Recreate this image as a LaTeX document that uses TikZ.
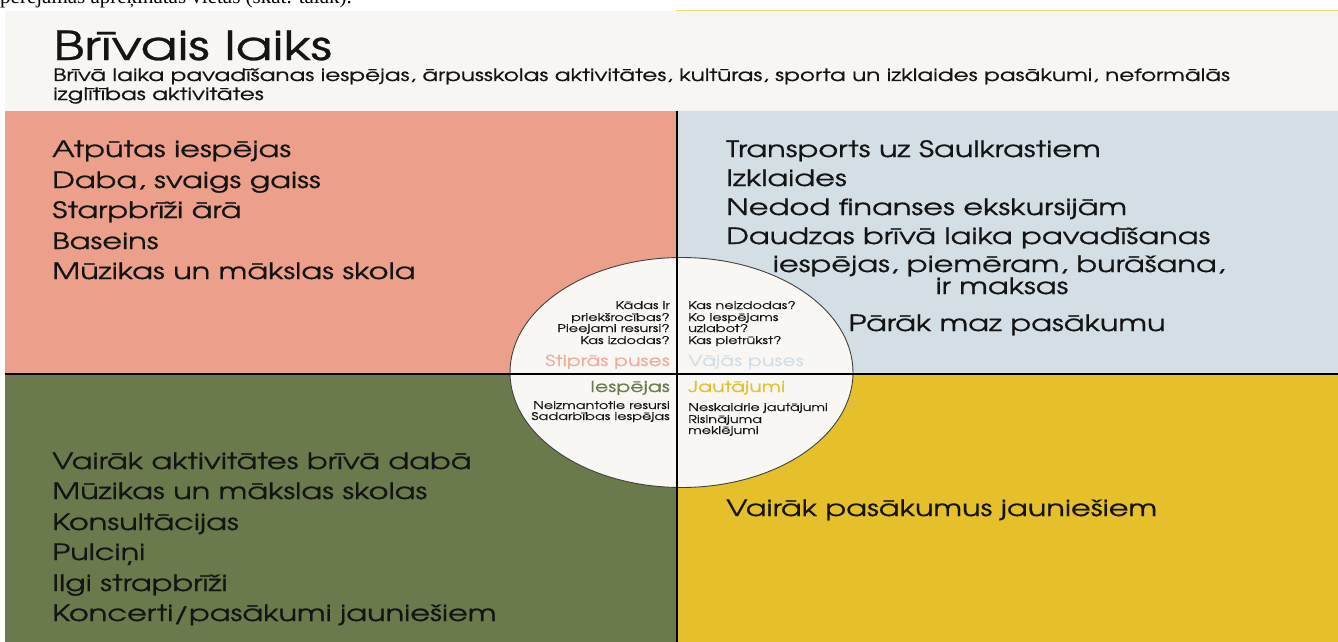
\documentclass[tikz,border=0pt]{standalone}
\usepackage{fontspec}
\IfFontExistsTF{texgyreadventor-regular.otf}
  {\setmainfont{texgyreadventor-regular.otf}[FakeBold=0.7,FakeStretch=1.36]}
  {\setmainfont{Poppins}[FakeStretch=1.27]}
\newfontfamily\serifcut{Liberation Serif}
\definecolor{salmon}{HTML}{ECA08C}
\definecolor{lblue}{HTML}{D3DFE5}
\definecolor{olive}{HTML}{6B7A4D}
\definecolor{gold}{HTML}{E5C02A}
\definecolor{beige}{HTML}{F7F6F2}
\definecolor{circfill}{HTML}{F8F7F4}
\definecolor{txt}{HTML}{141414}
\begin{document}
\begin{tikzpicture}[x=1pt,y=-1pt,
  item/.style={inner sep=0pt,anchor=base west,text=txt,font=\fontsize{22.4}{26}\selectfont},
  itemc/.style={inner sep=0pt,anchor=base,text=txt,font=\fontsize{22.4}{26}\selectfont},
  qL/.style={inner sep=0pt,anchor=base east,text=txt,font=\fontsize{10.6}{13}\selectfont},
  qR/.style={inner sep=0pt,anchor=base west,text=txt,font=\fontsize{10.6}{13}\selectfont},
  headL/.style={inner sep=0pt,anchor=base east,font=\fontsize{15.1}{18}\selectfont},
  headR/.style={inner sep=0pt,anchor=base west,font=\fontsize{15.1}{18}\selectfont},
  divider/.style={line width=2pt,draw=black}]
\useasboundingbox (0,0) rectangle (1338,642);
\fill[white] (0,0) rectangle (1338,642);
% cut-off line of text at the top
\begin{scope}
\clip (0,0) rectangle (1338,10);
\node[inner sep=0pt,anchor=base west,font=\serifcut\fontsize{21}{24}\selectfont] (cut) at (0,4) {perējamas aprēķinātas vietas (skat. tālāk).};
\end{scope}
\draw[draw=gold!60,line width=1pt] (676,10.5) -- (1338,10.5);
% header
\fill[beige] (5,11) rectangle (1338,111);
\node[inner sep=0pt,anchor=base west,text=txt,font=\fontsize{40}{42}\selectfont] (title) at (53,60) {Brīvais laiks};
\node[inner sep=0pt,anchor=base west,text=txt,font=\fontsize{17}{19}\selectfont] (sub1) at (53,81) {Brīvā laika pavadīšanas iespējas, ārpusskolas aktivitātes, kultūras, sporta un izklaides pasākumi, neformālās};
\node[inner sep=0pt,anchor=base west,text=txt,font=\fontsize{17}{19}\selectfont] (sub2) at (53,100) {izglītības aktivitātes};
% quadrants
\fill[salmon] (5,111) rectangle (677,373);
\fill[lblue] (677,111) rectangle (1338,373);
\fill[olive] (5,373) rectangle (677,642);
\fill[gold] (677,373) rectangle (1338,642);
% quadrant texts
\node[item] (s1) at (52,157) {Atpūtas iespējas};
\node[item] (s2) at (52,188) {Daba, svaigs gaiss};
\node[item] (s3) at (52,218) {Starpbrīži ārā};
\node[item] (s4) at (52,249) {Baseins};
\node[item] (s5) at (52,279) {Mūzikas un mākslas skola};
\node[item] (w1) at (726,157) {Transports uz Saulkrastiem};
\node[item] (w2) at (726,186) {Izklaides};
\node[item] (w3) at (726,215) {Nedod finanses ekskursijām};
\node[item] (w4) at (726,244) {Daudzas brīvā laika pavadīšanas};
\node[itemc] (w5) at (999,272) {iespējas, piemēram, burāšana,};
\node[itemc] (w6) at (1002,294) {ir maksas};
\node[itemc] (w7) at (1007,331) {Pārāk maz pasākumu};
\node[item] (o1) at (52,469) {Vairāk aktivitātes brīvā dabā};
\node[item] (o2) at (52,499) {Mūzikas un mākslas skolas};
\node[item] (o3) at (52,530) {Konsultācijas};
\node[item] (o4) at (52,560) {Pulciņi};
\node[item] (o5) at (52,591) {Ilgi strapbrīži};
\node[item] (o6) at (52,621) {Koncerti/pasākumi jauniešiem};
\node[item] (t1) at (726,516) {Vairāk pasākumus jauniešiem};
% central ellipse
\filldraw[fill=circfill,draw=black!75,line width=0.9pt] (681.5,372.5) ellipse [x radius=171.5, y radius=115];
% dividers
\draw[divider] (677,111) -- (677,642);
\draw[divider] (5,373.5) -- (1338,373.5);
% circle texts
\node[qL] (a1) at (670,309) {Kādas ir};
\node[qL] (a2) at (670,321) {priekšrocības?};
\node[qL] (a3) at (670,332) {Pieejami resursi?};
\node[qL] (a4) at (670,344) {Kas izdodas?};
\node[headL,text=salmon!85!white] (ah) at (670,366) {Stiprās puses};
\node[qR] (b1) at (688,309) {Kas neizdodas?};
\node[qR] (b2) at (688,321) {Ko iespējams};
\node[qR] (b3) at (688,332) {uzlabot?};
\node[qR] (b4) at (688,344) {Kas pietrūkst?};
\node[headR,text=lblue] (bh) at (688,366) {Vājās puses};
\node[headL,text=olive] (ch) at (670,392) {Iespējas};
\node[qL] (c1) at (670,409) {Neizmantotie resursi};
\node[qL] (c2) at (670,420) {Sadarbības iespējas};
\node[headR,text=gold] (dh) at (688,392) {Jautājumi};
\node[qR] (d1) at (688,411) {Neskaidrie jautājumi};
\node[qR] (d2) at (688,423) {Risinājuma};
\node[qR] (d3) at (688,434) {meklējumi};
\end{tikzpicture}
\end{document}
